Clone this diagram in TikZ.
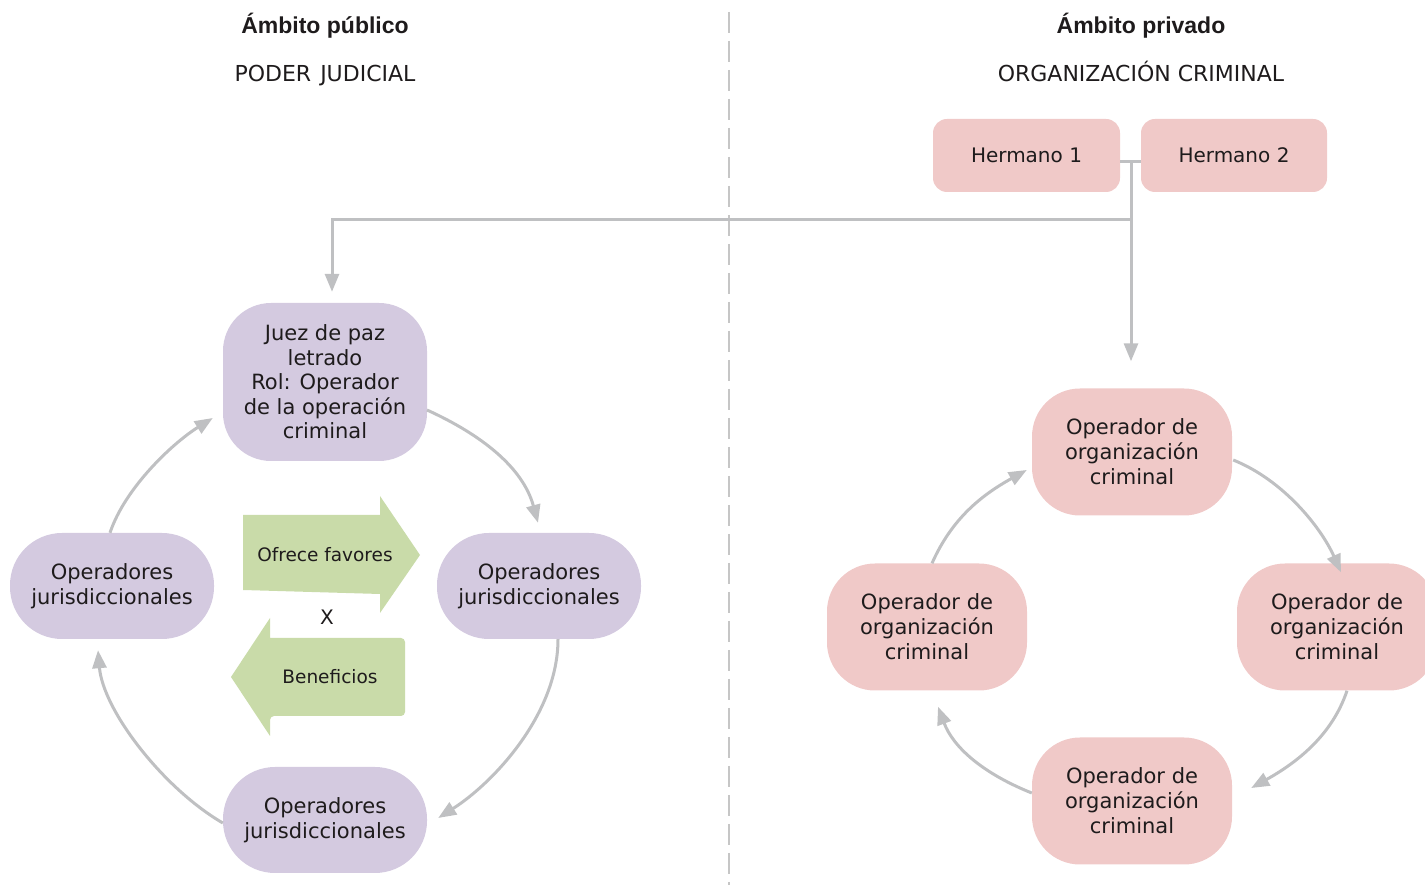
\documentclass[tikz,border=0pt]{standalone}
\usepackage{fontspec}
\setmainfont{DejaVu Sans}
\newfontfamily\titlefont{Liberation Sans}
\usetikzlibrary{arrows.meta,calc}
\definecolor{txt}{HTML}{1E1B1C}
\definecolor{lav}{HTML}{D4CAE0}
\definecolor{pinkc}{HTML}{F0C9C8}
\definecolor{grn}{HTML}{C9DBA9}
\definecolor{lin}{HTML}{BFC0C2}
\definecolor{dashc}{HTML}{C6C6C6}
\tikzset{
  every node/.style={text=txt},
  lavpill/.style={fill=lav, rounded corners=52pt, minimum width=204pt, minimum height=106pt, align=center, inner sep=0pt, font=\fontsize{21}{25}\selectfont},
  juezbox/.style={fill=lav, rounded corners=48pt, minimum width=204pt, minimum height=158pt, align=center, inner sep=0pt, font=\fontsize{21}{24.5}\selectfont},
  opbox/.style={fill=pinkc, rounded corners=48pt, minimum width=200pt, minimum height=127pt, align=center, inner sep=0pt, font=\fontsize{21}{25}\selectfont},
  herbox/.style={fill=pinkc, rounded corners=14pt, minimum height=73pt, inner sep=0pt, font=\fontsize{20}{24}\selectfont},
  titletext/.style={font=\titlefont\bfseries\fontsize{23}{26}\selectfont},
  subtext/.style={anchor=base, font=\fontsize{22}{26}\selectfont},
  conn/.style={draw=lin, line width=3pt, -{Triangle[length=18pt,width=14pt]}},
  plainconn/.style={draw=lin, line width=3pt},
  greenarrow/.style={fill=grn, draw=none},
}
\begin{document}
\begin{tikzpicture}[x=1pt,y=1pt]
\useasboundingbox (0,0) rectangle (1425,892);
% titles
\node[titletext] (t1) at (325,866) {Ámbito público};
\node[subtext] (s1) at (325,810) {PODER\ \kern2pt JUDICIAL};
\node[titletext] (t2) at (1141,866) {Ámbito privado};
\node[subtext] (s2) at (1141,810) {ORGANIZACIÓN CRIMINAL};
% divider
\coordinate (dtop) at (729,880);
\coordinate (dbot) at (729,7);
\draw[dashc, line width=2.8pt, dash pattern=on 21pt off 8pt] (dtop) -- (dbot);
% hermanos
\node[herbox, minimum width=187pt] (h1) at (1026.5,736.5) {Hermano 1};
\node[herbox, minimum width=186pt] (h2) at (1234,736.5) {Hermano 2};
% public nodes
\node[juezbox] (J) at (325,510) {Juez de paz\\letrado\\Rol: Operador\\de la operación\\criminal};
\node[lavpill] (L) at (112,306) {Operadores\\jurisdiccionales};
\node[lavpill] (R) at (539,306) {Operadores\\jurisdiccionales};
\node[lavpill] (B) at (325,72) {Operadores\\jurisdiccionales};
% private nodes
\node[opbox] (OT) at (1132,440) {Operador de\\organización\\criminal};
\node[opbox] (OL) at (927,265) {Operador de\\organización\\criminal};
\node[opbox] (OR) at (1337,265) {Operador de\\organización\\criminal};
\node[opbox] (OB) at (1132,91) {Operador de\\organización\\criminal};
% hermanos connectors
\coordinate (hj) at (1131,730);
\coordinate (hb) at (1131,672);
\coordinate (jb) at (332,672);
\draw[plainconn] ($(h1.east)+(0,-6.5)$) -- ($(h2.west)+(0,-6.5)$);
\draw[conn] (hj) -- ($(OT.north)+(-1,27)$);
\draw[plainconn, line join=miter] (hb) -- (jb) -- +(0,-20);
\draw[conn] (jb) -- ($(J.north)+(7,11)$);
% green arrows
\fill[greenarrow] (243,377) -- (380,377) -- (380,396) -- (420,337) -- (380,279) -- (380,298) -- (243,302) -- cycle;
\node[font=\fontsize{18.5}{22}\selectfont] (of) at (325,337) {Ofrece favores};
\fill[greenarrow, rounded corners=4pt] (270,254) -- (405,254) -- (405,176) -- (270,176) [sharp corners] -- (270,156) -- (231,215) -- (270,274) -- (270,254) -- cycle;
\fill[greenarrow] (270,254) -- (398,254) -- (398,180) -- (270,180) -- cycle;
\node[font=\fontsize{18.5}{22}\selectfont] (be) at (330,215) {Beneficios};
\node[font=\fontsize{20}{24}\selectfont] (x) at (327,275) {X};
% public cycle
\draw[conn] ($(J.center)+(102,-28)$) .. controls +(55,-25) and +(-15,55) .. ($(R.north)+(-1,10)$);
\draw[conn] ($(R.south)+(19,0)$) .. controls +(0,-75) and +(55,35) .. ($(B.east)+(11,2)$);
\draw[conn] ($(B.west)+(0,-3)$) .. controls +(-60,35) and +(5,-60) .. ($(L.south)+(-14,-11)$);
\draw[conn] ($(L.north)+(-2,0)$) .. controls +(15,45) and +(-40,-25) .. ($(J.west)+(-10,-36)$);
% private cycle
\draw[conn] ($(OT.east)+(1,-8)$) .. controls +(50,-20) and +(-20,45) .. ($(OR.north)+(4,-9)$);
\draw[conn] ($(OR.south)+(10,0)$) .. controls +(-15,-45) and +(45,25) .. ($(OB.east)+(19,13)$);
\draw[conn] ($(OB.west)+(0,8)$) .. controls +(-50,20) and +(15,-40) .. ($(OL.south)+(11,-16)$);
\draw[conn] ($(OL.north)+(5,0)$) .. controls +(20,45) and +(-45,-25) .. ($(OT.west)+(-5,-18)$);
\end{tikzpicture}
\end{document}
